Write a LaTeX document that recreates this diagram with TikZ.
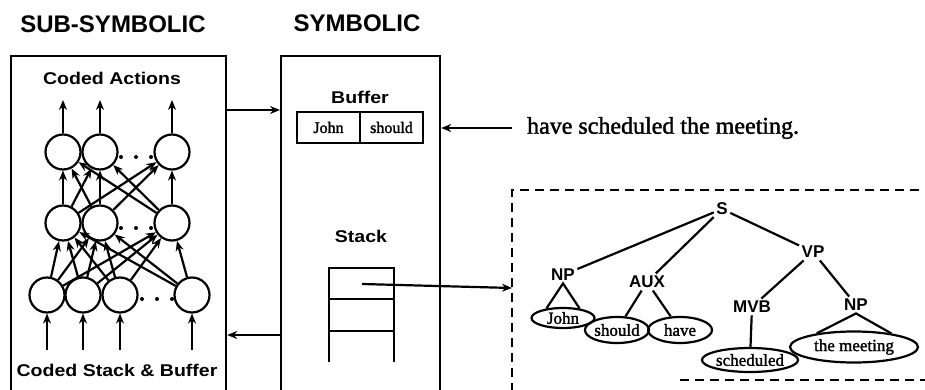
\documentclass[tikz,border=0pt]{standalone}
\usepackage{fontspec}
\setmainfont{Liberation Serif}
\setsansfont{Liberation Sans}
\newfontfamily\heavyserif{Liberation Serif}[FakeBold=1.6]
\usetikzlibrary{arrows.meta,shapes.geometric}
% bold sans label, slightly widened
\newcommand\widesf[2]{\scalebox{1.15}[1]{\sffamily\bfseries\fontsize{#1}{#1}\selectfont #2}}

\begin{document}
\begin{tikzpicture}[x=1pt,y=-1pt,
  line width=2.2pt,
  arr/.style={-{Stealth[length=10pt,width=8pt]}},
  unit/.style={circle,draw,minimum size=35pt,inner sep=0pt},
  title/.style={font=\sffamily\bfseries\fontsize{24}{28}\selectfont,inner sep=0pt},
  cat/.style={font=\sffamily\bfseries\fontsize{17}{19}\selectfont,inner sep=1.5pt},
  leaf/.style={ellipse,draw,inner sep=0pt,font=\heavyserif\fontsize{17}{19}\selectfont},
  word/.style={rectangle,draw,minimum width=63pt,minimum height=31pt,inner sep=0pt,font=\heavyserif\fontsize{16}{18}\selectfont},
  panel/.style={rectangle,draw,anchor=north west,inner sep=0pt},
  frame/.style={dash pattern=on 9pt off 6pt},
  dot/.style={circle,fill,inner sep=0pt,minimum size=4pt}
]
\clip (0,0) rectangle (925,390);

% panels
\node[panel,minimum width=215pt,minimum height=350pt] (sub) at (10,55) {};
\node[panel,minimum width=159pt,minimum height=350pt] (sym) at (280,55) {};
\node[title] (tsub) at (113,24) {SUB-SYMBOLIC};
\node[title] (tsym) at (357,23) {SYMBOLIC};

% network
\foreach \n/\x in {t1/63,t2/100,t3/172} \node[unit] (\n) at (\x,152) {};
\foreach \n/\x in {m1/63,m2/100,m3/172} \node[unit] (\n) at (\x,223) {};
\foreach \n/\x in {b1/47,b2/83,b3/120,b4/192} \node[unit] (\n) at (\x,295) {};
\foreach \i in {b1,b2,b3,b4} \foreach \j in {m1,m2,m3} \draw[arr] (\i) -- (\j);
\foreach \i in {m1,m2,m3} \foreach \j in {t1,t2,t3} \draw[arr] (\i) -- (\j);
\foreach \n/\x in {o1/63,o2/100,o3/172} {\coordinate (\n) at (\x,100);}
\foreach \n/\x in {i1/47,i2/83,i3/120,i4/192} {\coordinate (\n) at (\x,350);}
\foreach \a/\b in {t1/o1,t2/o2,t3/o3} \draw[arr] (\a) -- (\b);
\foreach \a/\b in {i1/b1,i2/b2,i3/b3,i4/b4} \draw[arr] (\a) -- (\b);
\foreach \k/\x in {1/121,2/136,3/151} {
  \node[dot] (dt\k) at (\x,157) {};
  \node[dot] (dm\k) at (\x,228) {};
}
\foreach \k/\x in {1/142,2/157,3/172} \node[dot] (db\k) at (\x,299) {};
\node (act) at (112,78) {\widesf{17}{Coded Actions}};
\node (inp) at (117,370) {\widesf{17}{Coded Stack \& Buffer}};

% buffer and stack
\node (buflab) at (360,97) {\widesf{17}{Buffer}};
\node[word] (w1) at (328.5,127.5) {John};
\node[word] (w2) at (391.5,127.5) {should};
\node (stklab) at (361,236) {\widesf{17}{Stack}};
\draw (329,362) -- (329,268) -- (394,268) -- (394,362);
\draw (329,299) -- (394,299);
\draw (329,331) -- (394,331);
\coordinate (stk) at (362,284);

% links between panels
\coordinate (a1) at (250,110);
\coordinate (a2) at (250,335);
\draw[arr] (sub.east |- a1) -- (sym.west |- a1);
\draw[arr] (sym.west |- a2) -- (sub.east |- a2);

% input sentence
\node[anchor=west,inner sep=0pt,font=\heavyserif\fontsize{24}{28}\selectfont] (sent) at (526,128) {have scheduled the meeting.};
\draw[arr,shorten <=14pt] (sent.west) -- (sent.west -| sym.east);

% parse tree frame
\draw[frame] (512,392) -- (512,190) -- (930,190);
\draw[frame] (680,380) -- (930,380);
\coordinate (treein) at (512,288);
\draw[arr] (stk) -- (treein);

% parse tree
\node[cat] (S) at (722,209) {S};
\node[cat] (VP) at (813,252) {VP};
\node[cat] (NPa) at (563,275) {NP};
\node[cat] (AUX) at (647,282) {AUX};
\node[cat] (MVB) at (752,307) {MVB};
\node[cat] (NPb) at (856,305) {NP};
\node[leaf,minimum width=63pt,minimum height=20pt] (john) at (563,318) {John};
\node[leaf,minimum width=63pt,minimum height=26pt] (should) at (617,330) {should};
\node[leaf,minimum width=64pt,minimum height=26pt] (have) at (680,330) {have};
\node[leaf,minimum width=80pt,minimum height=24pt] (sched) at (750,360) {scheduled};
\node[leaf,minimum width=128pt,minimum height=31pt] (meet) at (854,347) {the meeting};
\draw (S) -- (NPa);
\draw (S) -- (AUX);
\draw (S) -- (VP);
\draw (VP) -- (MVB);
\draw (VP) -- (NPb);
\draw (AUX) -- (should);
\draw (AUX) -- (have);
\draw (MVB) -- (sched);
\draw (john.150) -- (NPa.south) -- (john.30);
\draw (meet.160) -- (NPb.south) -- (meet.20);
\end{tikzpicture}
\end{document}
